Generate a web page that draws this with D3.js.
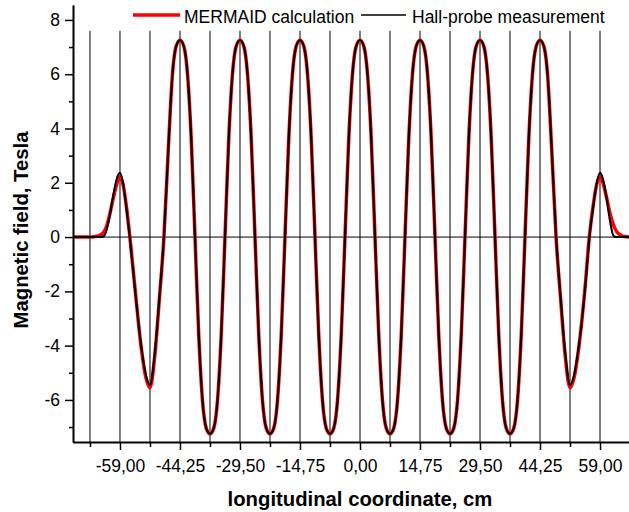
<!DOCTYPE html>
<html lang="en">
<head>
<meta charset="UTF-8">
<title>Magnetic field along the undulator</title>
<script src="https://cdnjs.cloudflare.com/ajax/libs/d3/7.8.5/d3.min.js"></script>
<style>
    body { margin: 0; background: #fff; }
    svg { display: block; font-family: "Liberation Sans", Arial, sans-serif; }
    .tick text { font-size: 17.5px; fill: #000; }
    .axis path, .axis line { stroke: #000; }
</style>
</head>
<body>
<div id="chart"></div>
<script>
    // longitudinal coordinate, cm
    const positions = [
        -70.5, -67, -65, -64, -63, -62.3, -61.5, -60.7, -59.8, -59, -58.2, -57.4, -56.6, -55.3, -53.8, -52.6,
        -51.63, -50.4, -49.3, -48.2, -47.1, -46.1, -45.17,
        -44.25, -43.33, -42.41, -41.48, -40.56, -39.64, -38.72, -37.80, -36.88, -35.95, -35.03, -34.11, -33.19, -32.27, -31.34, -30.42,
        -29.50, -28.58, -27.66, -26.73, -25.81, -24.89, -23.97, -23.05, -22.13, -21.20, -20.28, -19.36, -18.44, -17.52, -16.59, -15.67,
        -14.75, -13.83, -12.91, -11.98, -11.06, -10.14, -9.22, -8.30, -7.38, -6.45, -5.53, -4.61, -3.69, -2.77, -1.84, -0.92,
        0, 0.92, 1.84, 2.77, 3.69, 4.61, 5.53, 6.45, 7.38, 8.30, 9.22, 10.14, 11.06, 11.98, 12.91, 13.83,
        14.75, 15.67, 16.59, 17.52, 18.44, 19.36, 20.28, 21.20, 22.13, 23.05, 23.97, 24.89, 25.81, 26.73, 27.66, 28.58,
        29.50, 30.42, 31.34, 32.27, 33.19, 34.11, 35.03, 35.95, 36.88, 37.80, 38.72, 39.64, 40.56, 41.48, 42.41, 43.33,
        44.25,
        45.17, 46.1, 47.1, 48.2, 49.3, 50.4, 51.63, 52.6, 53.8, 55.3, 56.4, 57.4, 58.2, 59, 59.8, 60.7,
        61.5, 62.3, 63, 64, 65, 67, 70.5
    ];

    // MERMAID calculation, Tesla
    const mermaid = [
        0, 0, 0.02, 0.07, 0.18, 0.4, 0.85, 1.4, 1.95, 2.22, 1.9, 1.1, 0.05, -1.9, -4.05, -5.2,
        -5.55, -4.3, -2.25, 0, 3.3, 6.0, 7.04,
        7.25, 7.04, 6.02, 3.6, 0, -3.6, -6.02, -7.04, -7.25, -7.04, -6.02, -3.6, 0, 3.6, 6.02, 7.04,
        7.25, 7.04, 6.02, 3.6, 0, -3.6, -6.02, -7.04, -7.25, -7.04, -6.02, -3.6, 0, 3.6, 6.02, 7.04,
        7.25, 7.04, 6.02, 3.6, 0, -3.6, -6.02, -7.04, -7.25, -7.04, -6.02, -3.6, 0, 3.6, 6.02, 7.04,
        7.25, 7.04, 6.02, 3.6, 0, -3.6, -6.02, -7.04, -7.25, -7.04, -6.02, -3.6, 0, 3.6, 6.02, 7.04,
        7.25, 7.04, 6.02, 3.6, 0, -3.6, -6.02, -7.04, -7.25, -7.04, -6.02, -3.6, 0, 3.6, 6.02, 7.04,
        7.25, 7.04, 6.02, 3.6, 0, -3.6, -6.02, -7.04, -7.25, -7.04, -6.02, -3.6, 0, 3.6, 6.02, 7.04,
        7.25,
        7.04, 6.0, 3.3, 0, -2.25, -4.3, -5.55, -5.2, -4.05, -1.9, 0.05, 1.25, 1.95, 2.22, 1.95, 1.4,
        0.85, 0.45, 0.22, 0.08, 0.02, 0, 0
    ];

    // Hall-probe measurement, Tesla
    const hallProbe = [
        0, 0, 0, 0, 0.03, 0.25, 0.8, 1.5, 2.15, 2.37, 1.95, 1.05, 0, -1.95, -4.0, -5.1,
        -5.45, -4.2, -2.2, 0, 3.3, 6.0, 7.04,
        7.25, 7.04, 6.02, 3.6, 0, -3.6, -6.02, -7.04, -7.25, -7.04, -6.02, -3.6, 0, 3.6, 6.02, 7.04,
        7.25, 7.04, 6.02, 3.6, 0, -3.6, -6.02, -7.04, -7.25, -7.04, -6.02, -3.6, 0, 3.6, 6.02, 7.04,
        7.25, 7.04, 6.02, 3.6, 0, -3.6, -6.02, -7.04, -7.25, -7.04, -6.02, -3.6, 0, 3.6, 6.02, 7.04,
        7.25, 7.04, 6.02, 3.6, 0, -3.6, -6.02, -7.04, -7.25, -7.04, -6.02, -3.6, 0, 3.6, 6.02, 7.04,
        7.25, 7.04, 6.02, 3.6, 0, -3.6, -6.02, -7.04, -7.25, -7.04, -6.02, -3.6, 0, 3.6, 6.02, 7.04,
        7.25, 7.04, 6.02, 3.6, 0, -3.6, -6.02, -7.04, -7.25, -7.04, -6.02, -3.6, 0, 3.6, 6.02, 7.04,
        7.25,
        7.04, 6.0, 3.3, 0, -2.2, -4.2, -5.45, -5.1, -4.0, -1.95, 0, 1.2, 2.0, 2.37, 2.1, 1.35,
        0.55, 0.05, 0, 0, 0, 0, 0
    ];

    const xMajor = [-59, -44.25, -29.5, -14.75, 0, 14.75, 29.5, 44.25, 59];
    const xMinor = [-66.375, -51.625, -36.875, -22.125, -7.375, 7.375, 22.125, 36.875, 51.625, 66.375];
    const yMajor = [-6, -4, -2, 0, 2, 4, 6, 8];
    const yMinor = [-7, -5, -3, -1, 1, 3, 5, 7];

    const width = 629, height = 512;
    const svg = d3.select("#chart").append("svg")
        .attr("width", width)
        .attr("height", height);

    const x = d3.scaleLinear().domain([-70.55, 70.55]).range([73, 647]);
    const y = d3.scaleLinear().domain([-7.55, 8.55]).range([442, 5]);

    // vertical lines through every major and minor x tick
    svg.append("g")
        .selectAll("line")
        .data(xMajor.concat(xMinor))
        .enter().append("line")
        .attr("x1", d => x(d)).attr("x2", d => x(d))
        .attr("y1", y(7.6)).attr("y2", y(-7.55))
        .attr("stroke", "#000").attr("stroke-width", 1);

    // zero line
    svg.append("line")
        .attr("x1", x.range()[0]).attr("x2", x.range()[1])
        .attr("y1", y(0)).attr("y2", y(0))
        .attr("stroke", "#000").attr("stroke-width", 1);

    const points = (vals) => positions.map((p, i) => [p, vals[i]]);
    const line = d3.line()
        .x(d => x(d[0]))
        .y(d => y(d[1]))
        .curve(d3.curveMonotoneX);

    svg.append("path")
        .attr("d", line(points(mermaid)))
        .attr("fill", "none")
        .attr("stroke", "#ff0000")
        .attr("stroke-width", 3.5);

    svg.append("path")
        .attr("d", line(points(hallProbe)))
        .attr("fill", "none")
        .attr("stroke", "#000")
        .attr("stroke-width", 2);

    // axes
    const fmtX = d => d.toFixed(2).replace(".", ",");

    svg.append("g")
        .attr("class", "axis")
        .attr("transform", `translate(0,${y.range()[0]})`)
        .call(d3.axisBottom(x).tickValues(xMinor).tickSize(5).tickSizeOuter(0).tickFormat(""))
        .call(g => g.selectAll("line").attr("stroke-width", 1.5));

    svg.append("g")
        .attr("class", "axis")
        .attr("transform", `translate(0,${y.range()[0]})`)
        .call(d3.axisBottom(x).tickValues(xMajor).tickSize(8).tickSizeOuter(0).tickPadding(9.5).tickFormat(fmtX))
        .call(g => g.select(".domain").attr("stroke-width", 2))
        .call(g => g.selectAll("line").attr("stroke-width", 1.5));

    svg.append("g")
        .attr("class", "axis")
        .attr("transform", `translate(${x.range()[0]},0)`)
        .call(d3.axisLeft(y).tickValues(yMinor).tickSize(4).tickSizeOuter(0).tickFormat(""))
        .call(g => g.selectAll("line").attr("stroke-width", 1.5));

    svg.append("g")
        .attr("class", "axis")
        .attr("transform", `translate(${x.range()[0]},0)`)
        .call(d3.axisLeft(y).tickValues(yMajor).tickSize(8).tickSizeOuter(0).tickPadding(5).tickFormat(d => String(d)))
        .call(g => g.select(".domain").attr("stroke-width", 2))
        .call(g => g.selectAll("line").attr("stroke-width", 1.5));

    // axis titles
    svg.append("text")
        .attr("x", 360).attr("y", 506)
        .attr("text-anchor", "middle")
        .attr("font-weight", "bold")
        .attr("font-size", 20.3)
        .text("longitudinal coordinate, cm");

    svg.append("text")
        .attr("transform", "translate(28,230) rotate(-90)")
        .attr("text-anchor", "middle")
        .attr("font-weight", "bold")
        .attr("font-size", 20.3)
        .text("Magnetic field, Tesla");

    // legend
    const legend = svg.append("g");
    legend.append("line")
        .attr("x1", 133).attr("x2", 180).attr("y1", 15).attr("y2", 15)
        .attr("stroke", "#ff0000").attr("stroke-width", 3.5);
    legend.append("text")
        .attr("x", 184).attr("y", 22.5)
        .attr("font-size", 17.5)
        .text("MERMAID calculation");
    legend.append("line")
        .attr("x1", 361).attr("x2", 406).attr("y1", 15).attr("y2", 15)
        .attr("stroke", "#000").attr("stroke-width", 1.5);
    legend.append("text")
        .attr("x", 412).attr("y", 22.5)
        .attr("font-size", 17.5)
        .text("Hall-probe measurement");
</script>
</body>
</html>
